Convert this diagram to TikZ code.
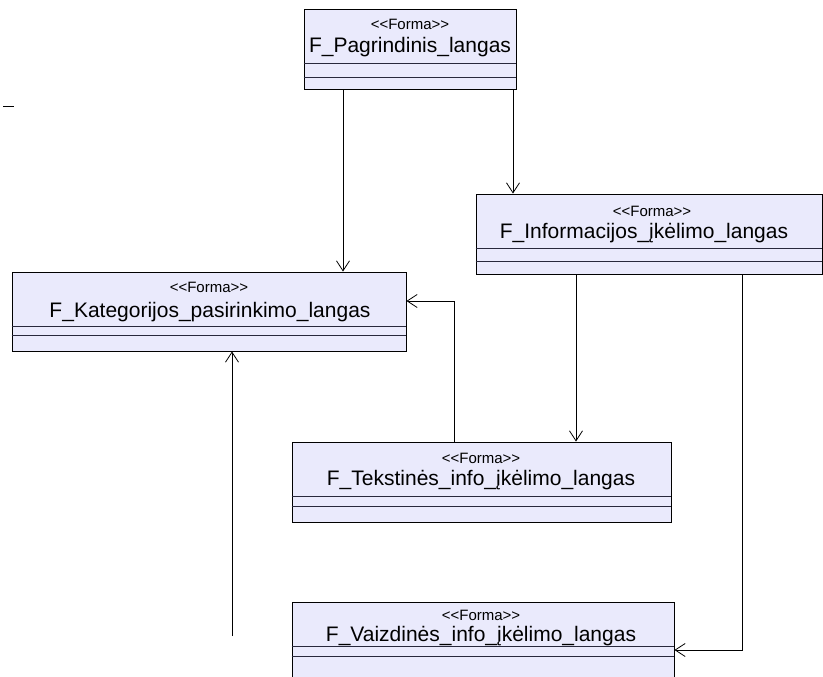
\documentclass[tikz,border=0pt]{standalone}
\usepackage{fontspec}
\setmainfont[Ligatures=NoCommon]{Liberation Sans}
\usetikzlibrary{arrows.meta}
\definecolor{lav}{RGB}{234,234,252}
\definecolor{cline}{RGB}{40,40,60}
\newcommand{\stereotxt}{{<}{<}Forma{>}{>}}
\tikzset{
  umlbox/.style={draw=black, fill=lav, line width=0.9pt, inner sep=0pt, rectangle},
  stereo/.style={inner sep=0pt, font=\fontsize{15}{15}\selectfont},
  cname/.style={inner sep=0pt, font=\fontsize{21}{21}\selectfont},
  comp/.style={draw=cline, line width=0.9pt},
  conn/.style={draw=black, line width=0.8pt},
  arr/.style={conn, -{Straight Barb[length=10pt,width=13pt,line width=0.8pt]}},
}
\begin{document}
\begin{tikzpicture}[x=1pt,y=-1pt]
\clip (0,0) rectangle (823,677);
\fill[white] (0,0) rectangle (823,677);

% boxes
\node[umlbox, minimum width=212pt, minimum height=80pt] (P) at (410,49) {};
\node[umlbox, minimum width=346pt, minimum height=80pt] (I) at (649,234) {};
\node[umlbox, minimum width=394pt, minimum height=79pt] (K) at (209,311.5) {};
\node[umlbox, minimum width=379pt, minimum height=80pt] (T) at (481.5,482) {};
\node[umlbox, minimum width=382pt, minimum height=100pt] (V) at (483,652) {};

% compartments
\draw[comp] (P.west |- 0,63) -- (P.east |- 0,63);
\draw[comp] (P.west |- 0,77) -- (P.east |- 0,77);
\draw[comp] (I.west |- 0,248) -- (I.east |- 0,248);
\draw[comp] (I.west |- 0,261) -- (I.east |- 0,261);
\draw[comp] (K.west |- 0,326) -- (K.east |- 0,326);
\draw[comp] (K.west |- 0,335) -- (K.east |- 0,335);
\draw[comp] (T.west |- 0,496) -- (T.east |- 0,496);
\draw[comp] (T.west |- 0,506) -- (T.east |- 0,506);
\draw[comp] (V.west |- 0,646) -- (V.east |- 0,646);
\draw[comp] (V.west |- 0,656) -- (V.east |- 0,656);

% texts
\node[stereo] (Ps) at (410,24) {\stereotxt};
\node[cname] (Pn) at (410,47) {F\_Pagrindinis\_langas};
\node[stereo] (Is) at (652,211) {\stereotxt};
\node[cname] (In) at (644,233) {F\_Informacijos\_įkėlimo\_langas};
\node[stereo] (Ks) at (209,287) {\stereotxt};
\node[cname] (Kn) at (210,312) {F\_Kategorijos\_pasirinkimo\_langas};
\node[stereo] (Ts) at (481,458) {\stereotxt};
\node[cname] (Tn) at (481,480) {F\_Tekstinės\_info\_įkėlimo\_langas};
\node[stereo] (Vs) at (481,615) {\stereotxt};
\node[cname] (Vn) at (481,636) {F\_Vaizdinės\_info\_įkėlimo\_langas};

% connectors
\draw[arr] (P.south -| 343,0) -- (K.north -| 343,0);
\draw[arr] (P.south -| 513,0) -- (I.north -| 513,0);
\draw[arr] (I.south -| 576,0) -- (T.north -| 576,0);
\draw[arr] (I.south -| 742,0) -- (742,650) -- (V.east |- 0,650);
\draw[arr] (T.north -| 454,0) -- (454,301) -- (K.east |- 0,301);
\coordinate (free) at (232,636);
\draw[arr] (free) -- (K.south -| free);

% small dash
\coordinate (d1) at (3,106);
\coordinate (d2) at (14,106);
\draw[conn] (d1) -- (d2);
\end{tikzpicture}
\end{document}
